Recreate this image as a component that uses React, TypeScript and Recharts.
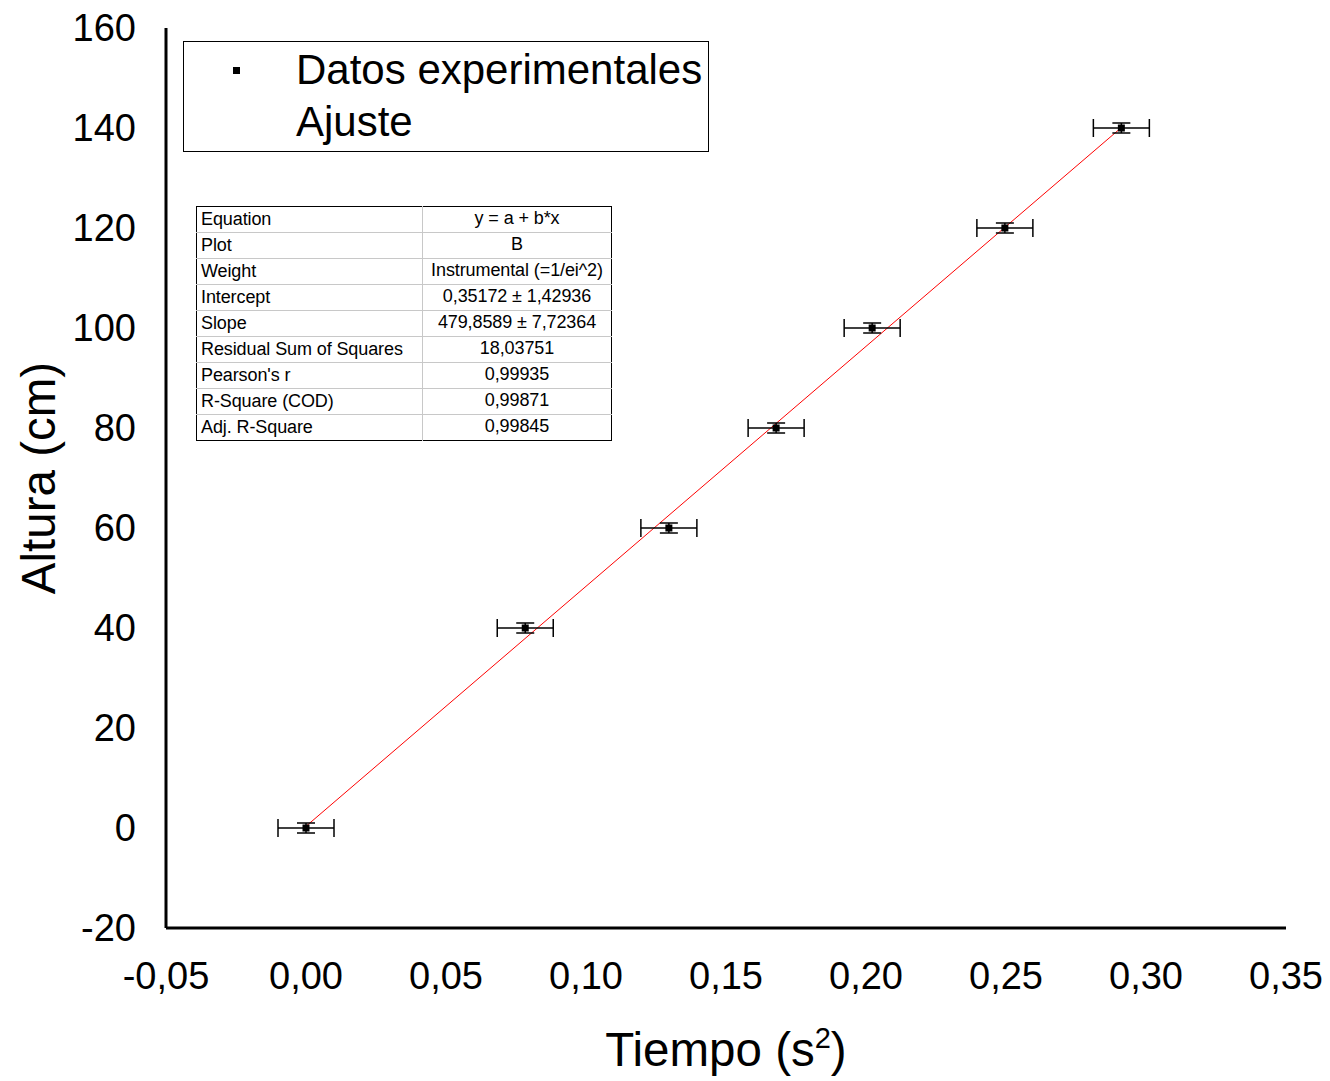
import React from 'react'
import { ComposedChart, Scatter, Line, XAxis, YAxis, ErrorBar } from 'recharts'

// experimental points (t^2 in s^2, height in cm)
const tiempo = [0, 0.0783, 0.1296, 0.1679, 0.2022, 0.2496, 0.2912]
const altura = [0, 40, 60, 80, 100, 120, 140]
const errTiempo = [0.01, 0.01, 0.01, 0.01, 0.01, 0.01, 0.01]
const errAltura = [1, 1, 1, 1, 1, 1, 1]

// fitted line endpoints (y = a + b*x)
const ajusteX = [0, 0.2912]
const ajusteY = [0.35, 140.09]

const xTicks = [-0.05, 0, 0.05, 0.1, 0.15, 0.2, 0.25, 0.3, 0.35]
const xTickLabels = ['-0,05', '0,00', '0,05', '0,10', '0,15', '0,20', '0,25', '0,30', '0,35']
const yTicks = [-20, 0, 20, 40, 60, 80, 100, 120, 140, 160]

const fitRows = [
  ['Equation', 'y = a + b*x'],
  ['Plot', 'B'],
  ['Weight', 'Instrumental (=1/ei^2)'],
  ['Intercept', '0,35172 ± 1,42936'],
  ['Slope', '479,8589 ± 7,72364'],
  ['Residual Sum of Squares', '18,03751'],
  ["Pearson's r", '0,99935'],
  ['R-Square (COD)', '0,99871'],
  ['Adj. R-Square', '0,99845'],
]

const FONT = '"Liberation Sans", Arial, Helvetica, sans-serif'

const puntos = tiempo.map((x, i) => ({ x, y: altura[i], ex: errTiempo[i], ey: errAltura[i] }))
const ajuste = ajusteX.map((x, i) => ({ x, y: ajusteY[i] }))

const SquareDot = (props: any) => {
  const { cx, cy } = props
  if (cx == null || cy == null) return null
  return <rect x={cx - 3.5} y={cy - 3.5} width={7} height={7} fill="#000" />
}

const YLabel = (props: any) => {
  const vb = props.viewBox || {}
  const cx = vb.x + vb.width - 128
  const cy = vb.y + vb.height / 2
  return (
    <text
      x={cx}
      y={cy}
      transform={`rotate(-90 ${cx} ${cy})`}
      textAnchor="middle"
      dominantBaseline="central"
      fontSize={47.5}
      fontFamily={FONT}
      fill="#000"
    >
      Altura (cm)
    </text>
  )
}

const XLabel = (props: any) => {
  const vb = props.viewBox || {}
  const cx = vb.x + vb.width / 2
  const by = vb.y + 138
  return (
    <text x={cx} y={by} textAnchor="middle" fontSize={47.5} fontFamily={FONT} fill="#000">
      <tspan>Tiempo (s</tspan>
      <tspan dy={-18} fontSize={29}>2</tspan>
      <tspan dy={18}>)</tspan>
    </text>
  )
}

function LegendBox() {
  return (
    <div
      style={{
        position: 'absolute',
        left: 183,
        top: 41,
        width: 524,
        height: 109,
        border: '1px solid #000',
        fontFamily: FONT,
        fontSize: 42,
        color: '#000',
      }}
    >
      <div style={{ position: 'absolute', left: 49, top: 25, width: 7, height: 7, background: '#000' }} />
      <div style={{ position: 'absolute', left: 112, top: 2, lineHeight: '52px', whiteSpace: 'nowrap' }}>
        Datos experimentales
      </div>
      <div style={{ position: 'absolute', left: 112, top: 54, lineHeight: '52px', whiteSpace: 'nowrap' }}>
        Ajuste
      </div>
    </div>
  )
}

function FitTable() {
  return (
    <table
      style={{
        position: 'absolute',
        left: 196,
        top: 206,
        width: 416,
        borderCollapse: 'collapse',
        border: '1px solid #000',
        fontFamily: FONT,
        fontSize: 18,
        color: '#000',
      }}
    >
      <tbody>
        {fitRows.map(([k, v], i) => (
          <tr key={k} style={{ height: 26, borderTop: i === 0 ? 'none' : '1px solid #c8c8c8' }}>
            <td style={{ padding: '0 0 0 4px', width: 221, borderRight: '1px solid #c8c8c8', whiteSpace: 'nowrap', letterSpacing: -0.1 }}>
              {k}
            </td>
            <td style={{ padding: 0, textAlign: 'center', whiteSpace: 'nowrap', letterSpacing: -0.1, verticalAlign: 'top', lineHeight: '22px' }}>
              {v}
            </td>
          </tr>
        ))}
      </tbody>
    </table>
  )
}

export default function App() {
  return (
    <div style={{ position: 'absolute', left: 0, top: 0, width: 1330, height: 1081, background: '#fff' }}>
      <ComposedChart
        width={1330}
        height={1081}
        margin={{ top: 28, right: 44, bottom: 93, left: 86 }}
      >
        <XAxis
          type="number"
          dataKey="x"
          domain={[-0.05, 0.35]}
          ticks={xTicks}
          allowDataOverflow
          tickFormatter={(v: number) => xTickLabels[xTicks.findIndex((t) => Math.abs(t - v) < 1e-9)] ?? ''}
          height={60}
          axisLine={{ stroke: '#000', strokeWidth: 3 }}
          tickLine={false}
          tickSize={0}
          tickMargin={34}
          tick={{ fill: '#000', fontSize: 38, fontFamily: FONT }}
          interval={0}
          label={<XLabel />}
        />
        <YAxis
          type="number"
          dataKey="y"
          domain={[-20, 160]}
          ticks={yTicks}
          allowDataOverflow
          width={80}
          axisLine={{ stroke: '#000', strokeWidth: 3 }}
          tickLine={false}
          tickSize={0}
          tickMargin={30}
          tick={{ fill: '#000', fontSize: 38, fontFamily: FONT }}
          interval={0}
          label={<YLabel />}
        />
        <Line
          data={ajuste}
          dataKey="y"
          stroke="#ff0000"
          strokeWidth={1}
          dot={false}
          activeDot={false}
          isAnimationActive={false}
        />
        <Scatter data={puntos} dataKey="y" shape={<SquareDot />} isAnimationActive={false}>
          <ErrorBar dataKey="ex" direction="x" width={9} stroke="#000" strokeWidth={1.5} isAnimationActive={false} />
          <ErrorBar dataKey="ey" direction="y" width={9} stroke="#000" strokeWidth={1.5} isAnimationActive={false} />
        </Scatter>
      </ComposedChart>
      <LegendBox />
      <FitTable />
    </div>
  )
}
